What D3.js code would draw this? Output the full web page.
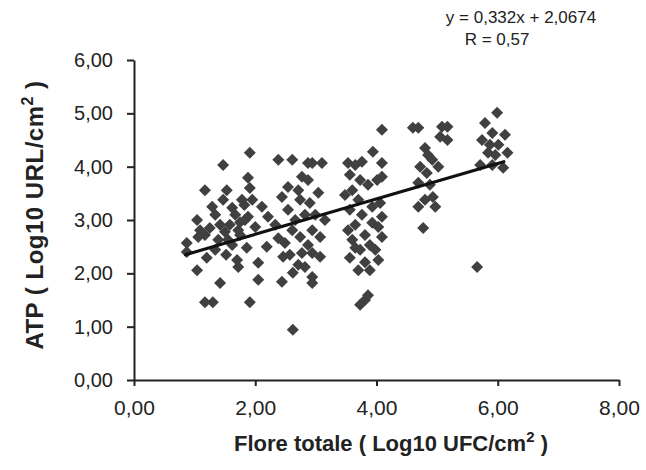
<!DOCTYPE html>
<html><head><meta charset="utf-8">
<script src="https://cdn.jsdelivr.net/npm/d3@7"></script>
<style>body{margin:0;background:#fff}svg{display:block}</style>
</head><body><svg id="c" width="646" height="470"></svg>
<script>
const xTicks = [0, 2, 4, 6, 8];
const yTicks = [0, 1, 2, 3, 4, 5, 6];
const flore = [
  0.87,0.87,1.04,1.06,1.04,1.17,1.20,1.17,1.30,1.42,1.47,1.53,1.29,1.47,1.62,1.88,1.91,1.86,2.05,1.70,
  1.72,2.05,1.62,1.88,2.00,1.91,1.34,1.42,1.50,1.58,1.67,1.75,1.39,1.55,1.75,1.82,1.25,1.78,1.95,2.11,
  2.21,1.83,1.72,2.19,1.09,1.17,1.34,1.52,1.91,
  2.38,2.61,2.87,2.44,2.54,2.71,2.77,2.54,2.46,2.62,2.44,2.49,2.74,2.77,2.82,2.62,2.94,3.10,2.87,3.04,
  2.90,3.15,2.94,3.07,2.94,3.07,2.94,2.94,2.66,2.82,2.61,2.33,2.38,2.74,2.87,2.99,2.57,2.71,
  3.94,3.53,3.65,3.76,3.56,3.73,3.60,3.70,3.56,3.76,3.65,3.81,3.60,3.73,3.56,3.81,3.70,3.81,3.73,3.86,
  4.01,3.93,4.03,4.09,4.09,4.06,4.09,4.09,4.03,3.98,4.09,3.86,3.89,3.65,3.89,3.53,3.93,3.48,
  4.60,5.08,5.05,4.80,4.72,4.92,5.02,4.69,4.83,4.93,4.69,4.97,4.77,5.17,5.17,4.85,4.88,4.80,4.69,
  5.99,5.79,5.74,5.91,6.12,6.01,5.84,5.71,5.91,6.09,6.16,5.66,5.87,5.96
];
const atp = [
  2.57,2.40,3.00,2.68,2.06,3.56,2.29,1.46,1.46,1.82,4.03,3.56,3.25,3.38,3.23,3.79,3.60,2.48,2.20,2.25,
  2.12,1.88,2.53,3.06,2.87,4.26,3.10,2.91,2.78,2.91,3.10,2.96,2.63,2.63,2.72,3.28,2.85,3.38,3.38,3.25,
  3.06,3.00,2.81,2.50,2.81,2.72,2.44,2.35,1.46,
  4.13,4.13,4.07,3.43,3.62,3.56,3.81,3.19,2.31,2.01,1.84,2.57,2.68,2.38,2.12,0.94,4.07,4.07,3.75,3.51,
  3.32,3.00,2.81,2.68,2.38,2.31,1.93,1.82,3.00,3.10,2.81,2.91,2.66,3.38,2.53,3.10,2.35,2.16,
  4.28,4.07,4.03,4.09,3.85,3.75,3.56,3.38,3.19,3.10,2.91,2.72,2.63,2.44,2.29,2.21,2.06,1.50,1.41,1.59,
  3.75,3.25,2.87,4.07,3.81,3.32,3.06,2.68,2.25,2.44,4.69,3.66,2.53,2.48,2.06,2.81,2.95,3.47,
  4.73,4.75,4.56,4.35,4.00,4.13,4.00,3.70,3.88,3.43,3.25,3.25,2.85,4.75,4.50,4.22,3.66,3.38,4.73,
  5.01,4.82,4.50,4.63,4.60,4.41,4.26,4.03,4.03,3.98,4.26,2.12,4.41,4.22
];
const slope = 0.332, intercept = 2.0674;
const trendRange = [0.85, 6.1];
const equationLines = ["y = 0,332x + 2,0674", "R = 0,57"];
const xTitle = "Flore totale ( Log10 UFC/cm";
const yTitle = "ATP ( Log10 URL/cm";

const svg = d3.select("#c");
const x = d3.scaleLinear().domain([0, 8]).range([134, 619]);
const y = d3.scaleLinear().domain([0, 6]).range([380, 60]);
const fmt = v => d3.format(".2f")(v).replace(".", ",");
const font = "'Liberation Sans', Arial, sans-serif";
const ink = "#222";

// points
svg.append("g").selectAll("path").data(flore.map((v, i) => [v, atp[i]])).join("path")
  .attr("d", d3.symbol(d3.symbolSquare, 72)())
  .attr("transform", d => `translate(${x(d[0])},${y(d[1])}) rotate(45)`)
  .attr("fill", "#404040");

// trend line
svg.append("line")
  .attr("x1", x(trendRange[0])).attr("y1", y(slope * trendRange[0] + intercept))
  .attr("x2", x(trendRange[1])).attr("y2", y(slope * trendRange[1] + intercept))
  .attr("stroke", "#111").attr("stroke-width", 3.2).attr("stroke-linecap", "round");

// axes
const gx = svg.append("g").attr("transform", `translate(0,${y(0)})`)
  .call(d3.axisBottom(x).tickValues(xTicks).tickFormat(fmt).tickSize(6).tickSizeOuter(0).tickPadding(14));
const gy = svg.append("g").attr("transform", `translate(${x(0)},0)`)
  .call(d3.axisLeft(y).tickValues(yTicks).tickFormat(fmt).tickSize(7).tickSizeOuter(0).tickPadding(14));
[gx, gy].forEach(g => {
  g.selectAll("path,line").attr("stroke", ink).attr("stroke-width", 2);
  g.selectAll("text").attr("fill", ink).style("font-family", font).style("font-size", "20px");
});
gx.selectAll("text").style("font-size", "21px");

// titles
const xt = svg.append("text").attr("x", 391).attr("y", 451).attr("text-anchor", "middle")
  .attr("fill", ink).style("font-family", font).style("font-size", "22px").style("font-weight", "bold");
xt.append("tspan").text(xTitle);
xt.append("tspan").attr("dy", -9).style("font-size", "15px").text("2");
xt.append("tspan").attr("dy", 9).text(" )");

const yt = svg.append("text").attr("transform", "translate(43,215) rotate(-90)").attr("text-anchor", "middle")
  .attr("fill", ink).style("font-family", font).style("font-size", "24px").style("font-weight", "bold")
  .style("letter-spacing", "0.5px");
yt.append("tspan").text(yTitle);
yt.append("tspan").attr("dy", -10).style("font-size", "16px").text("2");
yt.append("tspan").attr("dy", 10).text(" )");

// equation
svg.append("g").selectAll("text").data(equationLines).join("text")
  .attr("x", (d, i) => i === 0 ? 521 : 497).attr("y", (d, i) => 23 + i * 22)
  .attr("text-anchor", "middle").attr("fill", ink)
  .style("font-family", font).style("font-size", "17px").text(d => d);
</script>
</body></html>
